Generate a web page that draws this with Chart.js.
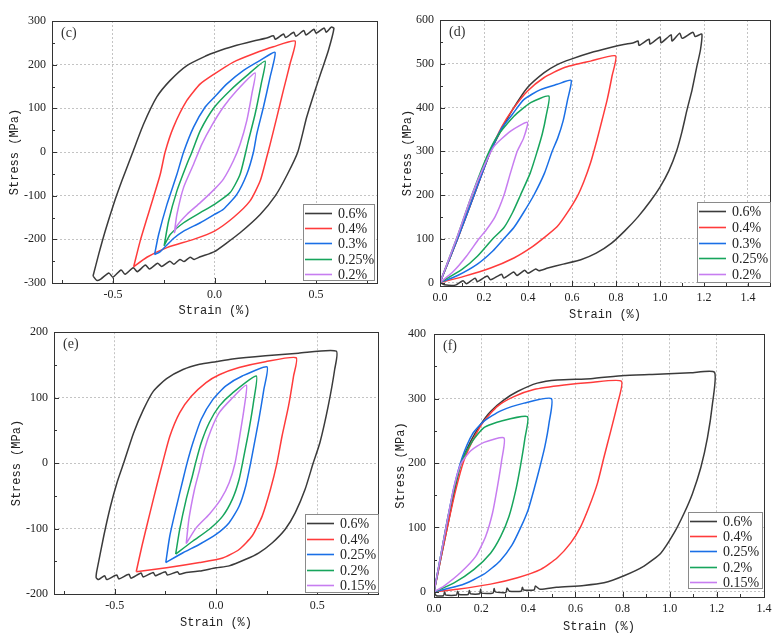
<!DOCTYPE html>
<html><head><meta charset="utf-8">
<script src="https://cdn.jsdelivr.net/npm/chart.js@4.4.0/dist/chart.umd.min.js"></script>
<style>
html,body{margin:0;padding:0;background:#fff;width:782px;height:638px;overflow:hidden;position:relative}
canvas{position:absolute}
</style></head><body>
<canvas id="pc" width="391" height="319" style="left:0;top:0"></canvas>
<canvas id="pd" width="391" height="330" style="left:391px;top:0"></canvas>
<canvas id="pe" width="391" height="319" style="left:0;top:319px"></canvas>
<canvas id="pf" width="391" height="319" style="left:391px;top:319px"></canvas>
<script>
// ---------- data (strain %, stress MPa) ----------
const seriesLabelsCD = ['0.6%','0.4%','0.3%','0.25%','0.2%'];
const seriesLabelsEF = ['0.6%','0.4%','0.25%','0.2%','0.15%'];

// panel (c)
const c06 = [[-0.598,-284],[-0.570,-234],[-0.538,-181],[-0.497,-120],[-0.456,-66],[-0.402,0],[-0.349,64],[-0.284,126],[-0.218,164],[-0.136,198],[-0.038,221],[0,228],[0.093,242],[0.192,254],[0.257,261],[0.29,266],[0.30,258],[0.34,270],[0.35,262],[0.39,274],[0.40,265],[0.44,278],[0.45,268],[0.49,281],[0.50,272],[0.54,284],[0.55,274],[0.575,286],[0.588,283],[0.561,233],[0.528,187],[0.495,141],[0.454,80],[0.410,0],[0.359,-51],[0.300,-100],[0.225,-143],[0.126,-185],[0.061,-208],[0,-228],[-0.07,-240],[-0.10,-246],[-0.12,-241],[-0.15,-251],[-0.17,-246],[-0.20,-257],[-0.22,-250],[-0.26,-262],[-0.28,-255],[-0.32,-268],[-0.34,-259],[-0.38,-274],[-0.40,-265],[-0.44,-280],[-0.46,-270],[-0.50,-287],[-0.52,-277],[-0.56,-291],[-0.58,-294],[-0.598,-284]];
const c04 = [[-0.398,-263],[-0.366,-204],[-0.316,-127],[-0.267,-51],[-0.243,0],[-0.202,57],[-0.136,118],[-0.070,156],[0,179],[0.093,206],[0.192,225],[0.290,241],[0.397,254],[0.372,202],[0.339,141],[0.307,80],[0.274,18],[0.257,-12],[0.225,-66],[0.175,-112],[0.093,-150],[0,-181],[-0.103,-200],[-0.234,-219],[-0.333,-241],[-0.398,-263]];
const c03 = [[-0.295,-235],[-0.275,-189],[-0.234,-120],[-0.185,-51],[-0.152,0],[-0.103,57],[-0.046,103],[0,126],[0.061,156],[0.143,187],[0.225,210],[0.298,228],[0.274,172],[0.241,103],[0.208,41],[0.192,0],[0.159,-51],[0.110,-97],[0.044,-131],[0,-143],[-0.070,-162],[-0.152,-181],[-0.202,-198],[-0.267,-228],[-0.295,-235]];
const c025 = [[-0.248,-215],[-0.226,-158],[-0.185,-89],[-0.136,-28],[-0.111,0],[-0.070,49],[0,103],[0.077,141],[0.159,175],[0.249,208],[0.230,156],[0.200,87],[0.167,26],[0.126,-51],[0.077,-93],[0,-120],[-0.070,-139],[-0.152,-162],[-0.218,-189],[-0.248,-215]];
const c02 = [[-0.198,-186],[-0.185,-143],[-0.152,-81],[-0.103,-28],[-0.062,18],[-0.013,61],[0.044,103],[0.110,141],[0.200,181],[0.184,133],[0.159,72],[0.126,18],[0.093,-20],[0.044,-62],[0,-85],[-0.070,-116],[-0.136,-143],[-0.185,-169],[-0.198,-186]];

// panel (d)
const d06 = [[0,0],[0.08,100],[0.155,200],[0.23,300],[0.28,350],[0.33,395],[0.397,445],[0.472,479],[0.533,498],[0.593,510],[0.684,525],[0.775,537],[0.835,544],[0.88,548],[0.90,552],[0.905,542],[0.95,556],[0.955,545],[1.00,561],[1.005,548],[1.05,566],[1.055,552],[1.09,570],[1.10,558],[1.15,572],[1.16,562],[1.19,568],[1.184,532],[1.168,495],[1.146,441],[1.123,395],[1.10,345],[1.075,300],[1.04,255],[1.0,218],[0.955,185],[0.90,150],[0.84,118],[0.78,90],[0.71,67],[0.64,52],[0.56,42],[0.49,33],[0.45,27],[0.435,31],[0.40,21],[0.385,28],[0.35,16],[0.335,24],[0.29,10],[0.28,19],[0.23,6],[0.215,15],[0.17,2],[0.16,10],[0.12,-3],[0.105,4],[0.07,-6],[0.02,-5],[0,0]];
const d04 = [[0,0],[0.08,100],[0.155,200],[0.23,300],[0.28,355],[0.33,395],[0.397,437],[0.472,468],[0.563,491],[0.684,506],[0.798,518],[0.782,472],[0.760,418],[0.737,372],[0.714,327],[0.684,273],[0.654,231],[0.624,197],[0.578,159],[0.533,128],[0.472,102],[0.412,79],[0.336,56],[0.230,33],[0.109,14],[0,0]];
const d03 = [[0,0],[0.08,100],[0.155,200],[0.23,300],[0.28,352],[0.33,385],[0.381,418],[0.457,441],[0.533,453],[0.596,462],[0.58,418],[0.56,370],[0.535,330],[0.51,300],[0.475,250],[0.427,200],[0.38,160],[0.335,125],[0.29,100],[0.24,72],[0.17,42],[0.08,16],[0,0]];
const d025 = [[0,0],[0.075,100],[0.145,200],[0.215,290],[0.26,334],[0.336,380],[0.412,411],[0.495,426],[0.482,380],[0.465,340],[0.442,300],[0.41,250],[0.366,200],[0.33,160],[0.29,125],[0.24,100],[0.17,60],[0.10,30],[0,0]];
const d02 = [[0,0],[0.075,100],[0.145,200],[0.2,266],[0.245,311],[0.321,346],[0.397,366],[0.38,330],[0.351,300],[0.32,250],[0.291,200],[0.25,150],[0.21,120],[0.177,100],[0.12,60],[0.06,25],[0,0]];

// panel (e)
const e06 = [[-0.590,-167],[-0.554,-111],[-0.521,-66],[-0.489,-30],[-0.456,0],[-0.407,46],[-0.358,82],[-0.309,110],[-0.244,129],[-0.163,143],[-0.081,151],[0,155],[0.081,159],[0.244,164],[0.407,168],[0.594,171],[0.586,143],[0.554,87],[0.513,31],[0.480,0],[0.440,-40],[0.391,-76],[0.342,-101],[0.277,-122],[0.212,-137],[0.147,-147],[0.065,-157],[0,-160],[-0.081,-165],[-0.147,-167],[-0.18,-170],[-0.19,-166],[-0.24,-171],[-0.25,-166],[-0.30,-172],[-0.31,-167],[-0.36,-174],[-0.37,-168],[-0.42,-176],[-0.43,-170],[-0.48,-177],[-0.49,-171],[-0.54,-178],[-0.55,-172],[-0.58,-178],[-0.592,-175],[-0.590,-167]];
const e04 = [[-0.394,-166],[-0.366,-127],[-0.326,-76],[-0.293,-35],[-0.264,0],[-0.228,41],[-0.179,77],[-0.122,102],[-0.049,123],[0.016,135],[0.114,146],[0.244,155],[0.396,161],[0.383,133],[0.358,87],[0.326,41],[0.301,0],[0.269,-40],[0.228,-81],[0.179,-111],[0.114,-132],[0.033,-145],[-0.081,-152],[-0.244,-160],[-0.394,-166]];
const e025 = [[-0.248,-152],[-0.228,-111],[-0.195,-66],[-0.163,-25],[-0.143,0],[-0.114,31],[-0.073,67],[-0.016,97],[0.049,118],[0.130,133],[0.252,147],[0.236,112],[0.212,67],[0.187,26],[0.171,0],[0.147,-35],[0.114,-66],[0.065,-91],[0,-109],[-0.081,-124],[-0.163,-137],[-0.248,-152]];
const e02 = [[-0.199,-139],[-0.179,-101],[-0.147,-55],[-0.117,-20],[-0.101,0],[-0.073,31],[-0.033,62],[0.016,87],[0.081,107],[0.199,133],[0.187,97],[0.163,51],[0.138,11],[0.114,-25],[0.081,-55],[0.033,-81],[-0.033,-101],[-0.114,-119],[-0.199,-139]];
const e015 = [[-0.147,-123],[-0.134,-86],[-0.106,-40],[-0.081,-10],[-0.057,21],[-0.024,51],[0.016,77],[0.073,97],[0.150,119],[0.138,82],[0.117,41],[0.094,0],[0.065,-30],[0.024,-55],[-0.033,-78],[-0.098,-99],[-0.147,-123]];

// panel (f)
const f06 = [[0,0],[0.028,50],[0.057,101],[0.085,152],[0.113,198],[0.156,234],[0.198,260],[0.240,280],[0.297,298],[0.354,311],[0.438,324],[0.523,329],[0.665,331],[0.806,336],[0.948,338],[1.089,340],[1.19,341],[1.181,291],[1.160,239],[1.132,193],[1.096,152],[1.061,122],[1.018,91],[0.962,60],[0.891,40],[0.806,25],[0.721,14],[0.636,10],[0.52,7],[0.45,4],[0.43,9],[0.425,3],[0.38,3],[0.375,7],[0.37,1],[0.32,1],[0.31,6],[0.305,-1],[0.26,0],[0.255,5],[0.25,-2],[0.2,-2],[0.198,4],[0.193,-3],[0.155,-3],[0.15,2],[0.145,-4],[0.106,-4],[0.10,1],[0.095,-5],[0.05,-5],[0.045,0],[0.04,-6],[0.01,-6],[0,0]];
const f04 = [[0,0],[0.028,50],[0.057,101],[0.092,158],[0.127,204],[0.170,239],[0.212,265],[0.269,288],[0.339,303],[0.424,314],[0.552,321],[0.665,325],[0.795,327],[0.778,291],[0.750,250],[0.721,209],[0.693,168],[0.658,132],[0.622,101],[0.580,76],[0.523,53],[0.453,35],[0.354,22],[0.240,12],[0.099,4],[0,0]];
const f025 = [[0,0],[0.028,55],[0.057,112],[0.085,163],[0.120,209],[0.163,245],[0.212,265],[0.283,281],[0.382,293],[0.498,300],[0.488,262],[0.47,225],[0.45,195],[0.425,160],[0.40,128],[0.368,100],[0.33,72],[0.28,48],[0.21,27],[0.12,11],[0,0]];
const f02 = [[0,0],[0.028,55],[0.057,112],[0.088,163],[0.120,204],[0.163,234],[0.212,255],[0.283,265],[0.396,272],[0.386,239],[0.368,198],[0.347,158],[0.318,117],[0.283,86],[0.240,60],[0.170,35],[0.085,14],[0,0]];
const f015 = [[0,0],[0.028,55],[0.057,112],[0.085,163],[0.113,198],[0.156,219],[0.212,232],[0.297,239],[0.287,204],[0.269,163],[0.248,122],[0.219,86],[0.177,55],[0.113,30],[0.042,9],[0,0]];

// ---------- tick values ----------
const xMajorSym = [-0.5,0,0.5];
const xMinorSym = [-0.75,-0.25,0.25,0.75];
const xMajorPos = [0,0.2,0.4,0.6,0.8,1.0,1.2,1.4];
const xMinorPos = [0.1,0.3,0.5,0.7,0.9,1.1,1.3];
const yMajorC = [-300,-200,-100,0,100,200,300];
const yMinorC = [-250,-150,-50,50,150,250];
const yMajorD = [0,100,200,300,400,500,600];
const yMinorD = [50,150,250,350,450,550];
const yMajorE = [-200,-100,0,100,200];
const yMinorE = [-150,-50,50,150];
const yMajorF = [0,100,200,300,400];
const yMinorF = [50,150,250,350];

const COLORS = ['#3b3b3b','#ff3b3b','#1a6fe6','#17a55c','#c77df0'];

// ---------- plugins ----------
const decor = {
  id: 'decor',
  afterDraw(chart, args, o) {
    const {ctx, chartArea: a, scales: {x, y}} = chart;
    ctx.save();
    ctx.strokeStyle = '#333'; ctx.lineWidth = 1; ctx.setLineDash([]);
    ctx.beginPath();
    const tx = (v, len) => { const p = Math.round(x.getPixelForValue(v)) + 0.5; ctx.moveTo(p, a.bottom); ctx.lineTo(p, a.bottom - len); };
    const ty = (v, len) => { const p = Math.round(y.getPixelForValue(v)) + 0.5; ctx.moveTo(a.left, p); ctx.lineTo(a.left + len, p); };
    o.xMajor.forEach(v => tx(v, 5)); o.xMinor.forEach(v => tx(v, 3));
    o.yMajor.forEach(v => ty(v, 5)); o.yMinor.forEach(v => ty(v, 3));
    ctx.stroke();
    ctx.strokeRect(Math.round(a.left) + 0.5, Math.round(a.top) + 0.5, Math.round(a.right - a.left), Math.round(a.bottom - a.top));
    // panel label
    ctx.fillStyle = '#333'; ctx.font = '14px "Liberation Serif"'; ctx.textBaseline = 'middle'; ctx.textAlign = 'left';
    ctx.fillText(o.tag, a.left + 9, a.top + 12);
    // legend box
    const b = o.box;
    ctx.fillStyle = '#fff'; ctx.fillRect(b.x, b.y, b.w, b.h);
    ctx.strokeStyle = '#8a8a8a'; ctx.strokeRect(b.x + 0.5, b.y + 0.5, b.w, b.h);
    chart.data.datasets.forEach((ds, i) => {
      const yy = Math.round(b.y + 9 + i * b.step) + 0.5;
      ctx.strokeStyle = ds.borderColor; ctx.lineWidth = 1.6;
      ctx.beginPath(); ctx.moveTo(b.x + 2, yy); ctx.lineTo(b.x + 29, yy); ctx.stroke();
      ctx.fillStyle = '#222'; ctx.font = '14px "Liberation Serif"';
      ctx.fillText(ds.label, b.x + 35, yy + 1);
    });
    ctx.restore();
  }
};

function panel(id, p) {
  const W = p.w, H = p.h, A = p.area;
  return new Chart(document.getElementById(id), {
    type: 'scatter',
    data: {
      datasets: p.series.map((s, i) => ({
        label: p.labels[i],
        data: s.map(([x, y]) => ({x, y})),
        showLine: true, fill: false,
        borderColor: COLORS[i], backgroundColor: COLORS[i],
        borderWidth: 1.5, pointRadius: 0, pointHoverRadius: 0,
        tension: 0.2, order: 5 - i
      }))
    },
    plugins: [decor],
    options: {
      responsive: false, animation: false, events: [],
      layout: {padding: {left: 0, top: A.top, right: W - A.right, bottom: H - A.bottom - p.xh}},
      plugins: {
        legend: {display: false}, tooltip: {enabled: false},
        decor: {tag: p.tag, box: p.box, xMajor: p.xMajor, xMinor: p.xMinor, yMajor: p.yMajor, yMinor: p.yMinor}
      },
      scales: {
        x: {
          type: 'linear', min: p.xr[0], max: p.xr[1],
          afterBuildTicks: s => { s.ticks = p.xMajor.map(v => ({value: v})); },
          afterFit: s => { s.height = p.xh; },
          ticks: {callback: v => Number(v).toFixed(1), font: {family: 'Liberation Serif', size: 12}, color: '#222', padding: 5, maxRotation: 0, autoSkip: false},
          grid: {drawTicks: false, color: '#c4c4c4', lineWidth: 1},
          border: {display: false, dash: [2, 2]},
          title: {display: true, text: 'Strain (%)', font: {family: 'Liberation Mono', size: 12}, color: '#222', padding: {top: 0, bottom: p.xtPad}}
        },
        y: {
          type: 'linear', min: p.yr[0], max: p.yr[1],
          afterBuildTicks: s => { s.ticks = p.yMajor.map(v => ({value: v})); },
          afterFit: s => { s.width = A.left; },
          ticks: {callback: v => String(v), font: {family: 'Liberation Serif', size: 12}, color: '#222', padding: p.ytkPad || 6, autoSkip: false},
          grid: {drawTicks: false, color: '#c4c4c4', lineWidth: 1},
          border: {display: false, dash: [2, 2]},
          title: {display: true, text: 'Stress (MPa)', font: {family: 'Liberation Mono', size: 12}, color: '#222', padding: {top: p.ytPad, bottom: 0}}
        }
      }
    }
  });
}

panel('pc', {w: 391, h: 319, area: {left: 52, top: 21, right: 377, bottom: 283}, xh: 36, xtPad: 1, ytPad: 8,
  xr: [-0.8, 0.8], yr: [-300, 300], xMajor: xMajorSym, xMinor: xMinorSym, yMajor: yMajorC, yMinor: yMinorC,
  tag: '(c)', labels: seriesLabelsCD, series: [c06, c04, c03, c025, c02],
  box: {x: 303, y: 204, w: 71, h: 76, step: 15.2}});

panel('pd', {w: 391, h: 330, area: {left: 49, top: 20, right: 379, bottom: 286}, xh: 44, xtPad: 8, ytPad: 10,
  xr: [0, 1.5], yr: [-8, 600], xMajor: xMajorPos, xMinor: xMinorPos, yMajor: yMajorD, yMinor: yMinorD,
  tag: '(d)', labels: seriesLabelsCD, series: [d06, d04, d03, d025, d02],
  box: {x: 306, y: 202, w: 73, h: 80, step: 15.8}});

panel('pe', {w: 391, h: 319, area: {left: 54, top: 13, right: 378, bottom: 275}, xh: 44, xtPad: 8, ytPad: 10,
  xr: [-0.8, 0.8], yr: [-200, 200], xMajor: xMajorSym, xMinor: xMinorSym, yMajor: yMajorE, yMinor: yMinorE,
  tag: '(e)', labels: seriesLabelsEF, series: [e06, e04, e025, e02, e015],
  box: {x: 305, y: 195, w: 73, h: 78, step: 15.5}});

panel('pf', {w: 391, h: 319, area: {left: 43, top: 12, right: 373, bottom: 278}, xh: 41, xtPad: 4, ytPad: 3, ytkPad: 8,
  xr: [0, 1.4], yr: [-8, 400], xMajor: xMajorPos, xMinor: xMinorPos, yMajor: yMajorF, yMinor: yMinorF,
  tag: '(f)', labels: seriesLabelsEF, series: [f06, f04, f025, f02, f015],
  box: {x: 297, y: 193, w: 74, h: 76, step: 15.2}});
</script>
</body></html>
